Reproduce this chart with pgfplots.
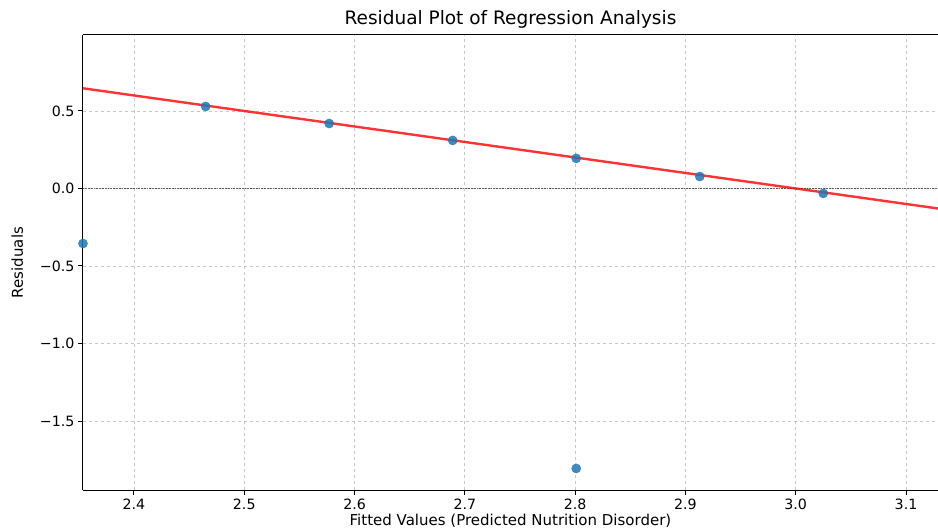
\documentclass[border=0pt]{standalone}
\usepackage{fontspec}
\setmainfont{DejaVu Sans}
\usepackage{pgfplots}
\pgfplotsset{compat=1.18}
\definecolor{mplblue}{HTML}{1F77B4}
\definecolor{gridgray}{HTML}{B0B0B0}

\begin{document}
\begin{tikzpicture}
\begin{axis}[
    scale only axis,
    width=855bp, height=455bp,
    xmin=2.3538, xmax=3.129,
    ymin=-1.945, ymax=0.99,
    axis lines=left,
    axis line style={-, line width=1bp},
    xtick={2.4,2.5,2.6,2.7,2.8,2.9,3.0,3.1},
    xticklabels={2.4,2.5,2.6,2.7,2.8,2.9,3.0,3.1},
    ytick={-1.5,-1.0,-0.5,0.0,0.5},
    yticklabels={−1.5,−1.0,−0.5,0.0,0.5},
    tick align=outside,
    major tick length=5bp,
    tick style={black, line width=1bp},
    tick label style={font=\fontsize{14.2bp}{17bp}\selectfont},
    grid=major,
    major grid style={gridgray, dashed, line width=0.9bp, opacity=0.7},
    xlabel={Fitted Values (Predicted Nutrition Disorder)},
    ylabel={Residuals},
    label style={font=\fontsize{15bp}{18bp}\selectfont},
    xlabel style={yshift=2bp},
    ylabel style={yshift=10bp},
    title={Residual Plot of Regression Analysis},
    title style={font=\fontsize{18.5bp}{22bp}\selectfont, yshift=-3bp},
]
\coordinate (ll) at (rel axis cs:0,0);
\coordinate (ur) at (rel axis cs:1,1);
% zero reference line
\addplot[black, densely dotted, line width=1.8bp, opacity=0.6] coordinates {(2.3,0) (3.2,0)};
% residuals
\addplot[only marks, mark=*, mark size=4.6bp, mplblue, opacity=0.85, mark options={draw=mplblue, fill=mplblue}] coordinates {
    (2.3538,-0.355)
    (2.465,0.529)
    (2.577,0.419)
    (2.689,0.310)
    (2.801,0.194)
    (2.913,0.077)
    (3.025,-0.032)
    (2.801,-1.806)
};
% fitted trend
\addplot[red, line width=2.4bp, opacity=0.8] coordinates {(2.3,0.70) (3.2,-0.20)};
\end{axis}
\draw[line width=1bp] (ll |- ur) -- (ur);
\pgfresetboundingbox
\path ([shift={(-83bp,-40bp)}]ll) rectangle ([shift={(0bp,35bp)}]ur);
\end{tikzpicture}
\end{document}
